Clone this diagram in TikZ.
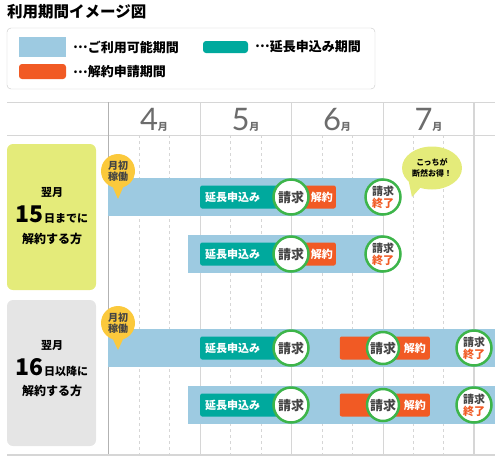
\documentclass[tikz,border=0pt]{standalone}
\usepackage{fontspec}
\setmainfont{Noto Sans CJK JP}
\newfontfamily\monthfont{Lato}
\usetikzlibrary{shapes.geometric}

\definecolor{useblue}{HTML}{9DCAE1}
\definecolor{extteal}{HTML}{00A99D}
\definecolor{cancelorange}{HTML}{F15A24}
\definecolor{ringgreen}{HTML}{3DB54A}
\definecolor{tagyellow}{HTML}{FBC93C}
\definecolor{limebox}{HTML}{E4EB7A}
\definecolor{graybox}{HTML}{E5E5E5}
\definecolor{gridgray}{HTML}{D6D6D6}
\definecolor{textgray}{HTML}{444444}

\newcommand{\middots}{\raisebox{0.3em}{…}}

\tikzset{
    jp/.style={font=\bfseries\fontsize{#1}{#1}\selectfont},
    usebar/.style={fill=useblue},
    extbox/.style={fill=extteal, rounded corners=2pt, text=white, jp=11,
        minimum height=23pt, text width=80pt, inner xsep=5pt, align=left, anchor=west},
    cancelbox/.style={fill=cancelorange, rounded corners=2pt, text=white, jp=11,
        minimum height=23pt, inner xsep=3pt, align=right, anchor=east},
    billring/.style={circle, draw=ringgreen, line width=2.5pt, fill=white,
        minimum size=35pt, inner sep=0pt, text=textgray, jp=13},
    endring/.style={billring, font=\bfseries\fontsize{11}{12}\selectfont, align=center},
    starttag/.style={circle, fill=tagyellow, minimum size=34pt, inner sep=0pt,
        text=textgray, align=center, font=\bfseries\fontsize{10}{11}\selectfont},
}

\begin{document}
\begin{tikzpicture}[x=1pt, y=-1pt]
    \useasboundingbox (0,0) rectangle (500,461);

    % title and legend
    \node[jp=15.5, anchor=west, inner sep=0pt] (title) at (7,12) {利用期間イメージ図};
    \draw[gray!45, rounded corners=4pt] (7,28) rectangle (375,89);
    \fill[useblue] (19,37) rectangle (66,57);
    \node[jp=13, anchor=west, inner sep=0pt] (legUse) at (73,47) {\middots ご利用可能期間};
    \fill[extteal, rounded corners=3pt] (203,41) rectangle (248,53);
    \node[jp=13, anchor=west, inner sep=0pt] (legExt) at (255,47) {\middots 延長申込み期間};
    \fill[cancelorange, rounded corners=3pt] (19,64) rectangle (66,79);
    \node[jp=13, anchor=west, inner sep=0pt] (legCancel) at (73,72) {\middots 解約申請期間};

    % grid
    \draw[gridgray] (7,102) -- (495,102);
    \draw[gridgray] (7,135) -- (495,135);
    \foreach \x in {139,169,230,261,322,352,413,443}
        \draw[gridgray, dash pattern=on 3pt off 3pt] (\x,135) -- (\x,455);
    \foreach \x in {200,291,383}
        \draw[gridgray] (\x,102) -- (\x,455);
    \draw[gray!60] (108,102) -- (108,455);
    \draw[gridgray, line width=2pt] (474,102) -- (474,455);
    \draw[gridgray, line width=2pt] (7,455) -- (495,455);

    % months
    \foreach \m/\x in {4/154,5/245.5,6/337,7/428.5}
        \node[anchor=base, text=gray!85!black, inner sep=0pt] (month\m) at (\x,130)
            {{\monthfont\fontsize{31}{31}\selectfont \m}{\bfseries\fontsize{10}{10}\selectfont 月}};

    % left labels
    \fill[limebox, rounded corners=6pt] (7,144) rectangle (96,290);
    \node[jp=11] (earlyA) at (52,192) {翌月};
    \node[jp=11, anchor=base, inner sep=0pt] (earlyB) at (52,222)
        {{\fontsize{23}{23}\selectfont 15}日までに};
    \node[jp=12] (earlyC) at (52,239) {解約する方};

    \fill[graybox, rounded corners=6pt] (7,300) rectangle (96,446);
    \node[jp=11] (lateA) at (52,345) {翌月};
    \node[jp=11, anchor=base, inner sep=0pt] (lateB) at (52,375)
        {{\fontsize{23}{23}\selectfont 16}日以降に};
    \node[jp=12] (lateC) at (52,391) {解約する方};

    % bars
    \fill[usebar] (108,178) rectangle (383,216);
    \fill[usebar] (188,235) rectangle (383,273);
    \fill[usebar] (108,329) rectangle (495,367);
    \fill[usebar] (188,386) rectangle (495,424);

    % row 1
    \node[extbox] (ext1) at (200,197) {延長申込み};
    \node[cancelbox, text width=34pt] (cancel1) at (336,197) {解約};
    \node[billring] (bill1) at (291,197) {請求};
    \node[endring] (end1) at (383,197) {請求\\\textcolor{cancelorange}{終了}};

    % row 2
    \node[extbox] (ext2) at (200,254) {延長申込み};
    \node[cancelbox, text width=34pt] (cancel2) at (336,254) {解約};
    \node[billring] (bill2) at (291,254) {請求};
    \node[endring] (end2) at (383,254) {請求\\\textcolor{cancelorange}{終了}};

    % row 3
    \node[extbox] (ext3) at (200,348) {延長申込み};
    \node[cancelbox, text width=82pt, inner xsep=4pt] (cancel3) at (430,348) {解約};
    \node[billring] (bill3) at (291,348) {請求};
    \node[billring, minimum size=32pt] (billB3) at (383,348) {請求};
    \node[endring] (end3) at (474,348) {請求\\\textcolor{cancelorange}{終了}};

    % row 4
    \node[extbox] (ext4) at (200,405) {延長申込み};
    \node[cancelbox, text width=82pt, inner xsep=4pt] (cancel4) at (430,405) {解約};
    \node[billring] (bill4) at (291,405) {請求};
    \node[billring, minimum size=32pt] (billB4) at (383,405) {請求};
    \node[endring] (end4) at (474,405) {請求\\\textcolor{cancelorange}{終了}};

    % start tags
    \fill[tagyellow] (111,183) -- (125,183) -- (118,199) -- cycle;
    \node[starttag] (tag1) at (118,171) {月初\\稼働};
    \fill[tagyellow] (111,335) -- (125,335) -- (118,350) -- cycle;
    \node[starttag] (tag3) at (118,323) {月初\\稼働};

    % bubble
    \fill[limebox] (408,178) -- (422,186) -- (412,197) -- cycle;
    \node[ellipse, fill=limebox, minimum width=60pt, minimum height=43pt, inner sep=0pt,
        align=center, font=\bfseries\fontsize{8}{11}\selectfont] (bubble) at (432,168)
        {こっちが\\断然お得！};
\end{tikzpicture}
\end{document}
